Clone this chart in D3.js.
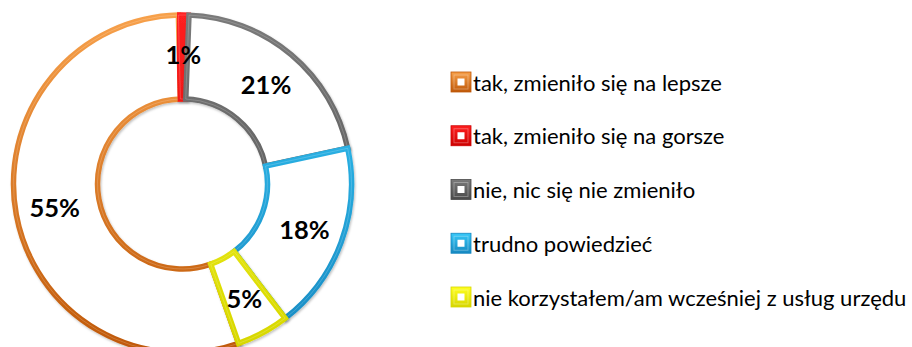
<!DOCTYPE html>
<html>
<head>
<meta charset="utf-8">
<script src="https://cdn.jsdelivr.net/npm/d3@7"></script>
<style>
  html, body { margin: 0; padding: 0; background: #fff; }
  svg { display: block; }
</style>
</head>
<body>
<svg id="chart" width="912" height="347"></svg>
<script>
// Survey answers, in legend order
const categories = [
  "tak, zmieniło się na lepsze",
  "tak, zmieniło się na gorsze",
  "nie, nic się nie zmieniło",
  "trudno powiedzieć",
  "nie korzystałem/am wcześniej z usług urzędu"
];
const shares = [55, 1, 21, 18, 5];
const valueLabels = ["55%", "1%", "21%", "18%", "5%"];

// Outline colours: light (top of ring) to dark (bottom of ring)
const lightColors = ["#f7a04a", "#ff2020", "#7a7a7a", "#36c8f8", "#ffff20"];
const darkColors  = ["#bf5808", "#cc0000", "#4a4a4a", "#1688c0", "#d6d600"];

const W = 912, H = 347;
const cx = 182.5, cy = 184, outerR = 169, innerR = 85;
const labelR = (innerR + outerR) / 2 + 3;
// the ring is turned so the 3rd answer begins just right of twelve o'clock
const turn = 2.2 * Math.PI / 180;
const before = (shares[0] + shares[1]) / d3.sum(shares) * 2 * Math.PI;
const start = turn - before;

const svg = d3.select("#chart");
const defs = svg.append("defs");

categories.forEach((c, i) => {
  const g = defs.append("linearGradient")
    .attr("id", "grad" + i)
    .attr("gradientUnits", "userSpaceOnUse")
    .attr("x1", 0).attr("y1", -outerR)
    .attr("x2", 0).attr("y2", outerR);
  g.append("stop").attr("offset", "0%").attr("stop-color", lightColors[i]);
  g.append("stop").attr("offset", "100%").attr("stop-color", darkColors[i]);

  const k = defs.append("linearGradient")
    .attr("id", "key" + i)
    .attr("x1", 0).attr("y1", 0).attr("x2", 0).attr("y2", 1);
  k.append("stop").attr("offset", "0%").attr("stop-color", lightColors[i]);
  k.append("stop").attr("offset", "100%").attr("stop-color", darkColors[i]);
});

const shadow = defs.append("filter").attr("id", "shadow")
  .attr("x", "-10%").attr("y", "-10%").attr("width", "120%").attr("height", "120%");
shadow.append("feDropShadow")
  .attr("dx", 1).attr("dy", 1.5).attr("stdDeviation", 1.2)
  .attr("flood-color", "#000").attr("flood-opacity", 0.25);

const pie = d3.pie().sort(null).value(d => d)
  .startAngle(start).endAngle(start + 2 * Math.PI);
const arcs = pie(shares);

const arc = d3.arc().innerRadius(innerR).outerRadius(outerR);
const labelArc = d3.arc().innerRadius(labelR).outerRadius(labelR);

const ring = svg.append("g").attr("transform", `translate(${cx},${cy})`);

const slices = ring.selectAll("g.slice")
  .data(arcs)
  .join("g")
  .attr("class", "slice")
  .attr("filter", "url(#shadow)");

// a sliver too narrow to show its white interior reads as a solid band
slices.append("path")
  .attr("d", arc)
  .attr("fill", (d, i) => (d.endAngle - d.startAngle) < 0.1 ? `url(#grad${i})` : "#fff")
  .attr("stroke", (d, i) => `url(#grad${i})`)
  .attr("stroke-width", 5.5)
  .attr("stroke-linejoin", "miter");

// faint inner highlight giving the bevelled outline
slices.append("path")
  .attr("d", arc)
  .attr("fill", "none")
  .attr("stroke", "#fff")
  .attr("stroke-opacity", 0.18)
  .attr("stroke-width", 1);

ring.selectAll("text.val")
  .data(arcs)
  .join("text")
  .attr("class", "val")
  .attr("transform", d => `translate(${labelArc.centroid(d)})`)
  .attr("text-anchor", "middle")
  .attr("dominant-baseline", "central")
  .style("font-family", "Lato, 'Liberation Sans', sans-serif")
  .style("font-weight", 700)
  .style("font-size", "25.5px")
  .attr("fill", "#000")
  .text((d, i) => valueLabels[i]);

// Legend
const legendY = d3.scalePoint().domain(d3.range(categories.length)).range([82, 297]);
const keyX = 451, keySize = 20;

const items = svg.append("g").selectAll("g")
  .data(categories)
  .join("g")
  .attr("transform", (d, i) => `translate(${keyX},${legendY(i)})`);

items.append("rect")
  .attr("x", 0).attr("y", -keySize / 2)
  .attr("width", keySize).attr("height", keySize)
  .attr("fill", (d, i) => `url(#key${i})`)
  .attr("stroke", (d, i) => darkColors[i])
  .attr("stroke-width", 0.8);

items.append("rect")
  .attr("x", 3).attr("y", -keySize / 2 + 3)
  .attr("width", keySize - 6).attr("height", keySize - 6)
  .attr("fill", "none")
  .attr("stroke", "#fff")
  .attr("stroke-opacity", 0.3)
  .attr("stroke-width", 1);

items.append("rect")
  .attr("x", keySize / 2 - 3.5).attr("y", -3.5)
  .attr("width", 7).attr("height", 7)
  .attr("fill", "#fff");

items.append("text")
  .attr("x", keySize + 2)
  .attr("y", 0)
  .attr("dominant-baseline", "central")
  .style("font-family", "Lato, 'Liberation Sans', sans-serif")
  .style("font-size", "22px")
  .attr("fill", "#000")
  .text(d => d);
</script>
</body>
</html>
